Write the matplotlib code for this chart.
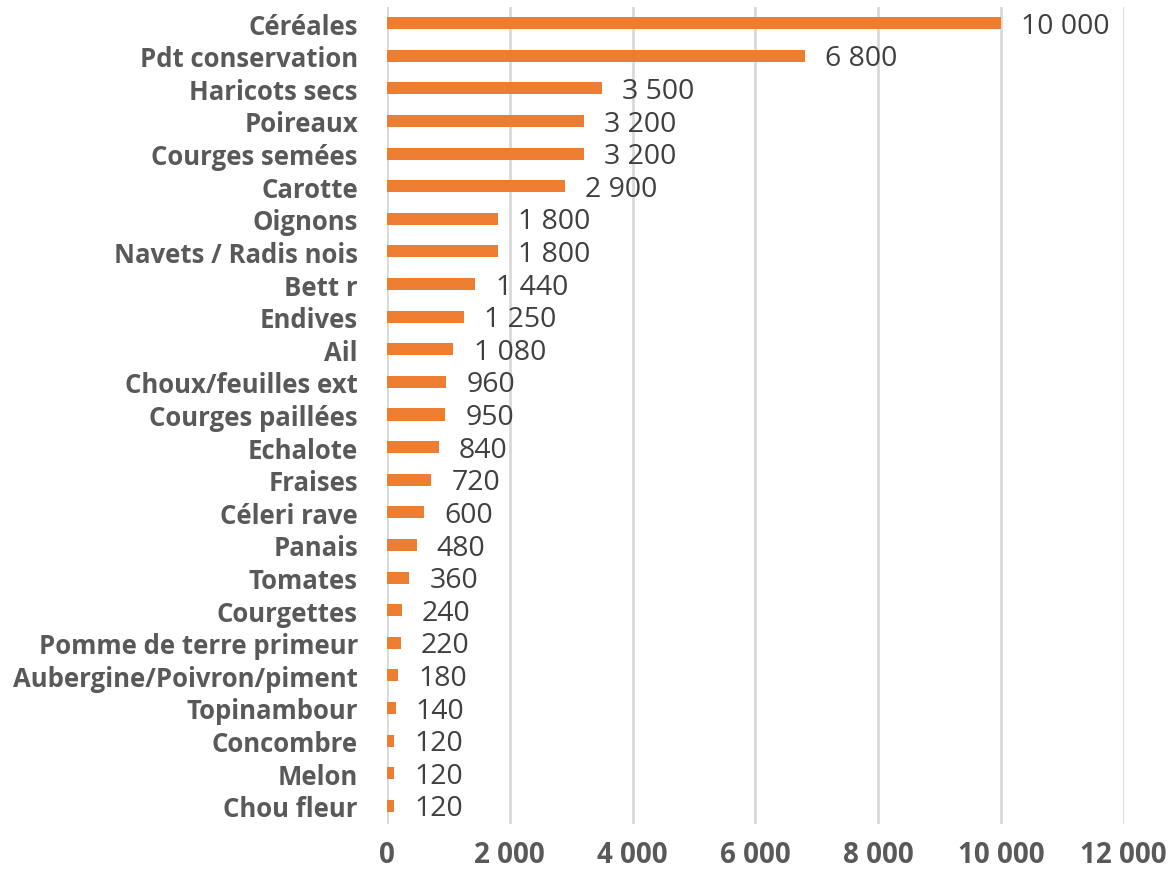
import matplotlib
matplotlib.use("Agg")
import matplotlib.pyplot as plt

# data, top to bottom
categories = ["Céréales", "Pdt conservation", "Haricots secs", "Poireaux",
              "Courges semées", "Carotte", "Oignons", "Navets / Radis nois",
              "Bett r", "Endives", "Ail", "Choux/feuilles ext",
              "Courges paillées", "Echalote", "Fraises", "Céleri rave",
              "Panais", "Tomates", "Courgettes", "Pomme de terre primeur",
              "Aubergine/Poivron/piment", "Topinambour", "Concombre",
              "Melon", "Chou fleur"]
values = [10000, 6800, 3500, 3200, 3200, 2900, 1800, 1800, 1440, 1250,
          1080, 960, 950, 840, 720, 600, 480, 360, 240, 220, 180, 140,
          120, 120, 120]
xticks = [0, 2000, 4000, 6000, 8000, 10000, 12000]


def fmt(v):
    return "{:,}".format(v).replace(",", " ")


plt.rcParams['font.family'] = ['Open Sans', 'DejaVu Sans']

fig = plt.figure(figsize=(11.73, 8.7), dpi=100)
ax = fig.add_axes([0.330, 0.052, 0.628, 0.939])

pos = list(range(len(categories)))
ax.barh(pos, values, height=0.37, color="#ED7D31", zorder=3)

for p, v in zip(pos, values):
    ax.text(v + 330, p + 0.08, fmt(v), va="center", ha="left",
            fontsize=20.5, color="#404040", zorder=4)

ax.set_xlim(0, 12000)
ax.set_ylim(len(categories) - 0.45, -0.5)
ax.set_xticks(xticks)
ax.set_xticklabels([fmt(t) for t in xticks], fontsize=20,
                   fontweight="bold", color="#595959")
ax.set_yticks(pos)
ax.set_yticklabels(categories, fontsize=18.5, fontweight="bold",
                   color="#595959")
ax.tick_params(axis="both", length=0)
ax.tick_params(axis="x", pad=12)
ax.tick_params(axis="y", pad=21)

ax.grid(axis="x", color="#D9D9D9", linewidth=2, zorder=0)
for s in ax.spines.values():
    s.set_visible(False)

fig.savefig("out.png", dpi=100)
